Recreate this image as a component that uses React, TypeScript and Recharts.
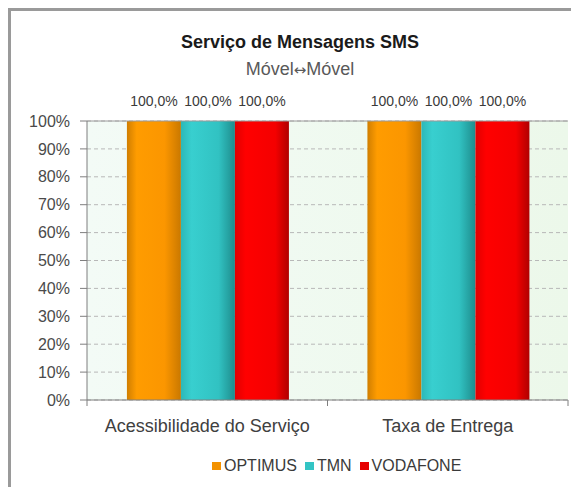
import React from "react";
import { Bar, BarChart, CartesianGrid, LabelList, ReferenceLine, XAxis, YAxis } from "recharts";

const categories = ["Acessibilidade do Serviço", "Taxa de Entrega"];
const optimus = [100, 100];
const tmn = [100, 100];
const vodafone = [100, 100];
const yTicks = [0, 10, 20, 30, 40, 50, 60, 70, 80, 90, 100];

const series = [
  { key: "OPTIMUS", values: optimus, color: "#f39200", grad: "gOptimus" },
  { key: "TMN", values: tmn, color: "#33c4c4", grad: "gTmn" },
  { key: "VODAFONE", values: vodafone, color: "#e60000", grad: "gVodafone" },
];

const rows = categories.map((name, i) => ({
  name,
  OPTIMUS: optimus[i],
  TMN: tmn[i],
  VODAFONE: vodafone[i],
}));

const W = 568;
const H = 476;
const X_H = 30;
// bottom margin + x axis height leaves the plot floor at y=389
const M = { top: 110, right: 11, bottom: 87 - X_H, left: 0 };
const Y_W = 76;
const AXIS = "#7f7f7f";
const FONT = "'Liberation Sans', Arial, sans-serif";

function CategoryTick(props: any) {
  const { x, y, payload, index } = props;
  const half = payload?.offset || (W - M.right - Y_W) / categories.length / 2;
  return (
    <g>
      <line x1={x - half} y1={y} x2={x - half} y2={y + 6} stroke={AXIS} />
      {index === categories.length - 1 && (
        <line x1={x + half} y1={y} x2={x + half} y2={y + 6} stroke={AXIS} />
      )}
      <text x={x} y={y + 32} textAnchor="middle" fontSize={18} fill="#404040" fontFamily={FONT}>
        {payload.value}
      </text>
    </g>
  );
}

function LegendBox() {
  return (
    <div
      style={{
        position: "absolute",
        left: 201,
        top: 446,
        display: "flex",
        alignItems: "center",
        fontSize: 16,
        lineHeight: "18px",
        color: "#3a3a3a",
        fontFamily: FONT,
      }}
    >
      {series.map((s) => (
        <div key={s.key} style={{ display: "flex", alignItems: "center", marginRight: 8 }}>
          <span style={{ width: 9, height: 8, background: s.color, display: "inline-block", marginRight: 3 }} />
          <span>{s.key}</span>
        </div>
      ))}
    </div>
  );
}

export default function App() {
  return (
    <div
      style={{
        position: "relative",
        width: W,
        height: H,
        borderTop: "3px solid #9a9a9a",
        borderLeft: "3px solid #9a9a9a",
        background: "#fff",
        fontFamily: FONT,
      }}
    >
      <BarChart width={W} height={H} data={rows} margin={M} barCategoryGap="16.6%" barGap={0}>
        <defs>
          <linearGradient id="gPlot" x1="0" y1="0" x2="1" y2="0">
            <stop offset="0%" stopColor="#f3fbf6" />
            <stop offset="100%" stopColor="#ecf8ea" />
          </linearGradient>
          <linearGradient id="gOptimus" x1="0" y1="0" x2="1" y2="0">
            <stop offset="0%" stopColor="#d07e00" />
            <stop offset="18%" stopColor="#ff9c00" />
            <stop offset="70%" stopColor="#fb9600" />
            <stop offset="100%" stopColor="#c97800" />
          </linearGradient>
          <linearGradient id="gTmn" x1="0" y1="0" x2="1" y2="0">
            <stop offset="0%" stopColor="#2cb8b8" />
            <stop offset="20%" stopColor="#38cfcf" />
            <stop offset="70%" stopColor="#31c2c2" />
            <stop offset="100%" stopColor="#1e8c8c" />
          </linearGradient>
          <linearGradient id="gVodafone" x1="0" y1="0" x2="1" y2="0">
            <stop offset="0%" stopColor="#e00000" />
            <stop offset="20%" stopColor="#ff0000" />
            <stop offset="75%" stopColor="#f40000" />
            <stop offset="100%" stopColor="#b00000" />
          </linearGradient>
        </defs>
        <CartesianGrid vertical={false} fill="url(#gPlot)" stroke="#b8b8b8" strokeDasharray="4 3" />
        <XAxis
          dataKey="name"
          height={X_H}
          tickLine={false}
          tickSize={0}
          tickMargin={0}
          tick={<CategoryTick />}
          axisLine={{ stroke: AXIS }}
          interval={0}
        />
        <YAxis
          width={Y_W}
          domain={[0, 100]}
          ticks={yTicks}
          tickFormatter={(v: number) => `${v}%`}
          tick={{ fontSize: 16, fill: "#4a4a4a", fontFamily: FONT }}
          tickSize={7}
          tickMargin={10}
          tickLine={{ stroke: AXIS }}
          axisLine={{ stroke: AXIS }}
          interval={0}
        />
        <ReferenceLine y={100} stroke="#9a9a9a" />
        {series.map((s) => (
          <Bar key={s.key} dataKey={s.key} fill={`url(#${s.grad})`} isAnimationActive={false}>
            <LabelList
              dataKey={s.key}
              position="top"
              offset={15}
              formatter={(v: any) => `${Number(v).toFixed(1).replace(".", ",")}%`}
              style={{ fontSize: 14, fill: "#3a3a3a", fontFamily: FONT }}
            />
          </Bar>
        ))}
      </BarChart>
      <LegendBox />
      <svg
        width={W}
        height={90}
        style={{ position: "absolute", left: 0, top: 0, pointerEvents: "none" }}
      >
        <text x={289} y={37} textAnchor="middle" fontSize={18} fontWeight="bold" fill="#1a1a1a" fontFamily={FONT}>
          Serviço de Mensagens SMS
        </text>
        <text x={289} y={64} textAnchor="middle" fontSize={18} fill="#595959" fontFamily={FONT}>
          Móvel<tspan fontFamily="'DejaVu Sans'" fontSize={15}>↔</tspan>Móvel
        </text>
      </svg>
    </div>
  );
}
